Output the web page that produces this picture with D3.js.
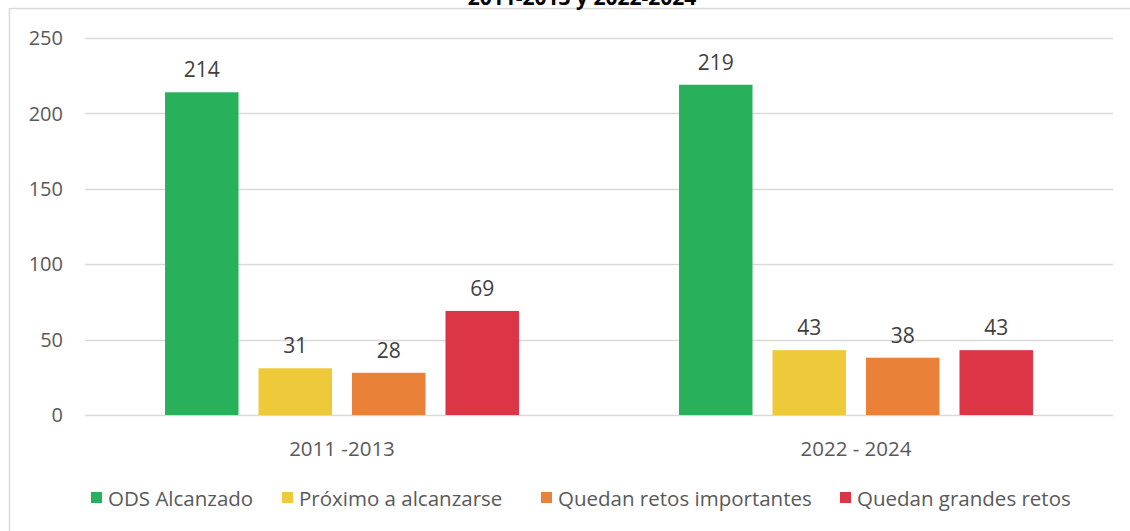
<!DOCTYPE html>
<html>
<head>
<meta charset="utf-8">
<script src="https://cdn.jsdelivr.net/npm/d3@7"></script>
<style>
    body { margin: 0; background: #fff; }
    text { font-family: "Open Sans", sans-serif; }
</style>
</head>
<body>
<svg id="chart" width="1130" height="531"></svg>
<script>
// chart values
var periods = ["2011 -2013", "2022 - 2024"];
var seriesNames = ["ODS Alcanzado", "Próximo a alcanzarse", "Quedan retos importantes", "Quedan grandes retos"];
var seriesColors = ["#28b15a", "#eeca3b", "#ea8139", "#dc3646"];
var values2011 = [214, 31, 28, 69];
var values2022 = [219, 43, 38, 43];
var yTicks = [0, 50, 100, 150, 200, 250];
var titleText = "2011-2013 y 2022-2024";

var svg = d3.select("#chart");

// outer frame (chart area border, cut on right and bottom like the picture)
svg.append("path")
    .attr("d", "M9.5,540 V8.5 H1140")
    .attr("fill", "none")
    .attr("stroke", "#d9d9d9")
    .attr("stroke-width", 1.5);

svg.append("text")
    .attr("x", 582)
    .attr("y", 5)
    .attr("text-anchor", "middle")
    .attr("font-size", 21)
    .attr("font-weight", "bold")
    .attr("fill", "#000")
    .text(titleText);

var plotLeft = 85, plotRight = 1113, plotTop = 38, plotBottom = 415;

var y = d3.scaleLinear().domain([0, 250]).range([plotBottom, plotTop]);
var x0 = d3.scaleBand().domain(periods).range([plotLeft, plotRight]).padding(0);
var x1 = d3.scaleBand().domain(seriesNames)
    .range([0, x0.bandwidth()])
    .paddingInner(0.214)
    .paddingOuter(0.856);

// grid lines
svg.append("g")
    .selectAll("line")
    .data(yTicks)
    .enter()
    .append("line")
    .attr("x1", plotLeft)
    .attr("x2", plotRight)
    .attr("y1", function (d) { return Math.round(y(d)) + 0.5; })
    .attr("y2", function (d) { return Math.round(y(d)) + 0.5; })
    .attr("stroke", "#d9d9d9")
    .attr("stroke-width", 1.3);

// y axis labels
svg.append("g")
    .selectAll("text")
    .data(yTicks)
    .enter()
    .append("text")
    .attr("x", 63)
    .attr("y", function (d) { return y(d); })
    .attr("dy", "0.36em")
    .attr("text-anchor", "end")
    .attr("font-size", 20)
    .attr("fill", "#595959")
    .text(function (d) { return d; });

var rows = [values2011, values2022];

var groups = svg.append("g")
    .selectAll("g")
    .data(periods)
    .enter()
    .append("g")
    .attr("transform", function (d) { return "translate(" + x0(d) + ",0)"; });

groups.selectAll("rect")
    .data(function (d, i) {
        return seriesNames.map(function (s, j) { return {name: s, value: rows[i][j], color: seriesColors[j]}; });
    })
    .enter()
    .append("rect")
    .attr("x", function (d) { return x1(d.name); })
    .attr("width", x1.bandwidth())
    .attr("y", function (d) { return y(d.value); })
    .attr("height", function (d) { return y(0) - y(d.value); })
    .attr("fill", function (d) { return d.color; });

groups.selectAll("text.val")
    .data(function (d, i) {
        return seriesNames.map(function (s, j) { return {name: s, value: rows[i][j]}; });
    })
    .enter()
    .append("text")
    .attr("class", "val")
    .attr("x", function (d) { return x1(d.name) + x1.bandwidth() / 2; })
    .attr("y", function (d) { return y(d.value) - 15; })
    .attr("text-anchor", "middle")
    .attr("font-size", 21)
    .attr("fill", "#404040")
    .text(function (d) { return d.value; });

// category labels
svg.append("g")
    .selectAll("text")
    .data(periods)
    .enter()
    .append("text")
    .attr("x", function (d) { return x0(d) + x0.bandwidth() / 2; })
    .attr("y", 456)
    .attr("text-anchor", "middle")
    .attr("font-size", 20.5)
    .attr("fill", "#595959")
    .text(function (d) { return d; });

// legend
var legendX = [91, 282, 541, 840];
var legend = svg.append("g")
    .selectAll("g")
    .data(seriesNames)
    .enter()
    .append("g")
    .attr("transform", function (d, i) { return "translate(" + legendX[i] + ",492)"; });

legend.append("rect")
    .attr("width", 11)
    .attr("height", 11)
    .attr("fill", function (d, i) { return seriesColors[i]; });

legend.append("text")
    .attr("x", 17)
    .attr("y", 14)
    .attr("font-size", 20.5)
    .attr("fill", "#595959")
    .text(function (d) { return d; });
</script>
</body>
</html>
